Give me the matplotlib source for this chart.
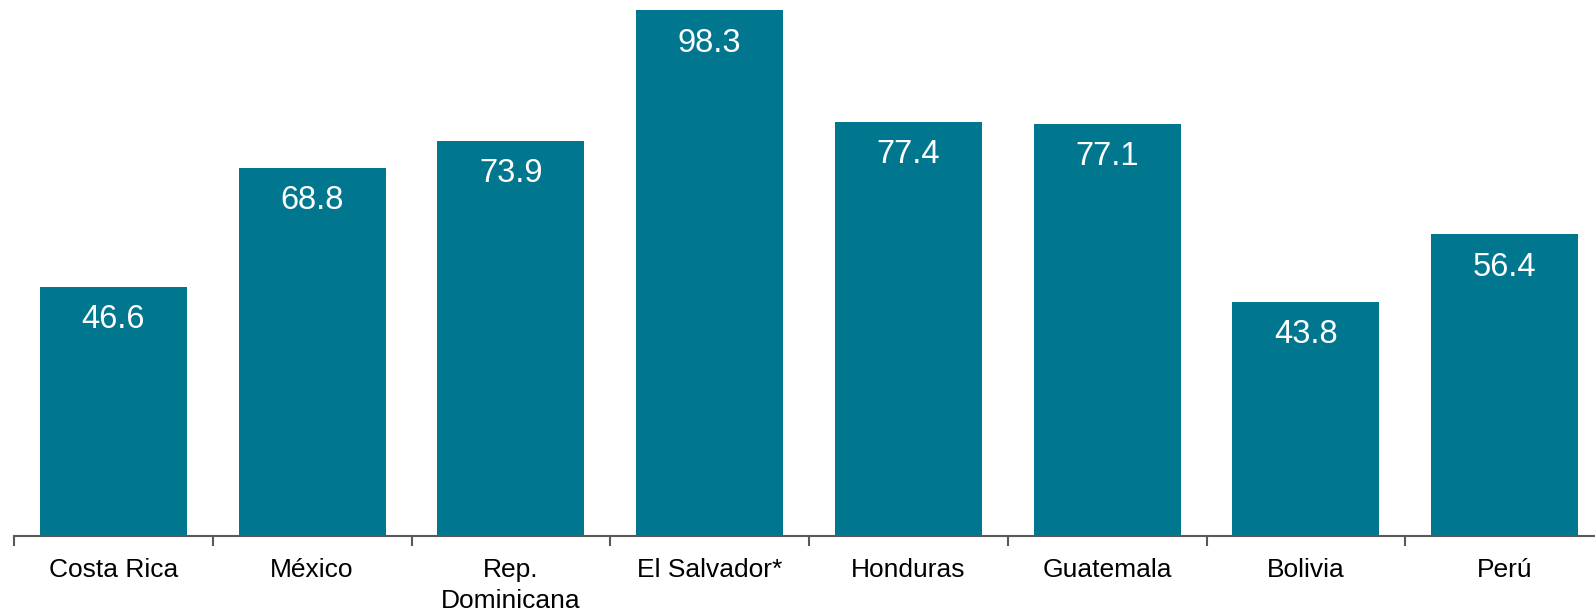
import matplotlib
matplotlib.use("Agg")
import matplotlib.pyplot as plt
import numpy as np

categories = ["Costa Rica", "México", "Rep.\nDominicana", "El Salvador*", "Honduras", "Guatemala", "Bolivia", "Perú"]
values = [46.6, 68.8, 73.9, 98.3, 77.4, 77.1, 43.8, 56.4]

plt.rcParams['font.family'] = ['Liberation Sans', 'DejaVu Sans']

W, H = 1595, 611
fig = plt.figure(figsize=(W / 100, H / 100), dpi=100)
left, right = 14, 1604
bottom, top = 536, 1
ax = fig.add_axes([left / W, (H - bottom) / H, (right - left) / W, (bottom - top) / H])

x = np.arange(len(categories))
bars = ax.bar(x, values, width=0.74, color='#00778F')
ax.set_xlim(-0.5, len(categories) - 0.5)
ax.set_ylim(0, 100)

for xi, v in zip(x, values):
    ax.annotate(f"{v:.1f}", xy=(xi, v), xytext=(0, -33 * 0.72), textcoords='offset points',
                ha='center', va='center', color='white', fontsize=23.5)

for s in ['top', 'right', 'left']:
    ax.spines[s].set_visible(False)
ax.spines['bottom'].set_color('#595959')
ax.spines['bottom'].set_linewidth(1.5)
ax.set_yticks([])
ax.set_xticks(x)
ax.set_xticklabels(categories, fontsize=19, linespacing=1.35)
ax.tick_params(axis='x', which='major', length=0, pad=16)
ax.set_xticks(np.arange(-0.5, len(categories), 1.0), minor=True)
ax.tick_params(axis='x', which='minor', length=7, width=1.5, color='#595959')

fig.savefig("out.png", dpi=100)
